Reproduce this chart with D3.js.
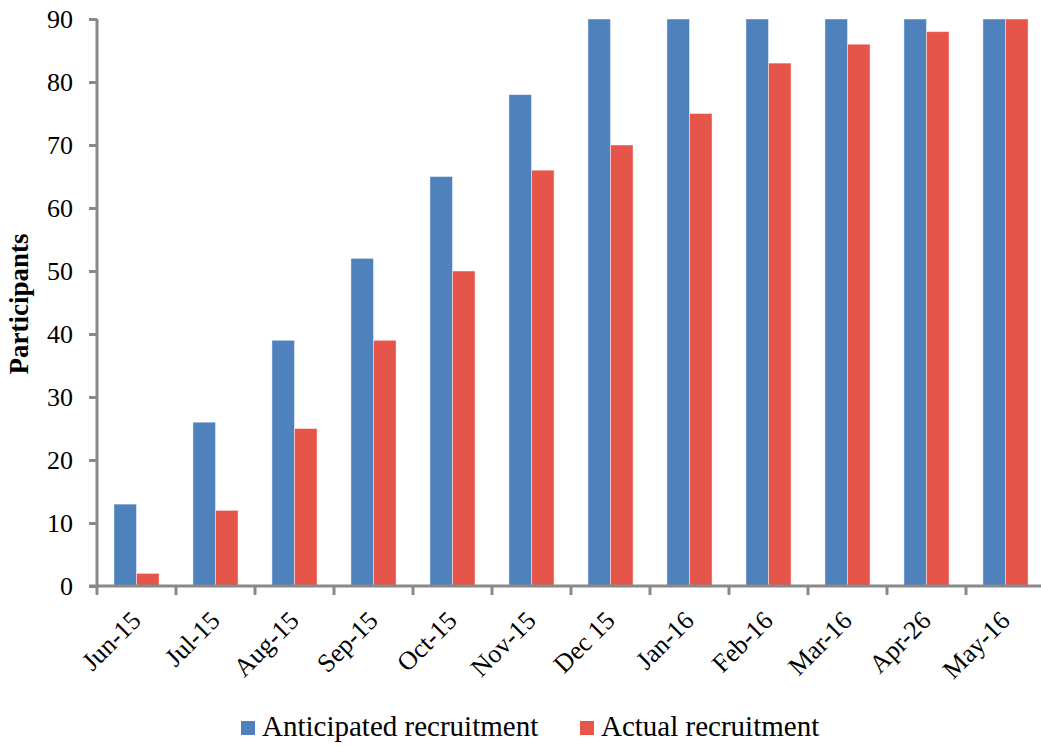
<!DOCTYPE html>
<html>
<head>
<meta charset="utf-8">
<script src="https://cdn.jsdelivr.net/npm/d3@7"></script>
<style>
  html, body { margin: 0; padding: 0; background: #fff; }
  svg { display: block; }
  text { font-family: "Liberation Serif", "Times New Roman", serif; fill: #000; }
</style>
</head>
<body>
<svg id="chart" width="1041" height="746"></svg>
<script>
// Monthly recruitment figures
const months = ["Jun-15", "Jul-15", "Aug-15", "Sep-15", "Oct-15", "Nov-15",
                "Dec 15", "Jan-16", "Feb-16", "Mar-16", "Apr-26", "May-16"];
const anticipated = [13, 26, 39, 52, 65, 78, 90, 90, 90, 90, 90, 90];
const actual      = [2, 12, 25, 39, 50, 66, 70, 75, 83, 86, 88, 90];
const seriesNames = ["Anticipated recruitment", "Actual recruitment"];
const seriesColors = ["#4F81BD", "#E5554A"];
const yTicks = [0, 10, 20, 30, 40, 50, 60, 70, 80, 90];

const svg = d3.select("#chart");
const plotLeft = 97, plotTop = 19, plotBottom = 586, step = 79;

const x = d3.scaleBand()
  .domain(months)
  .range([plotLeft, plotLeft + step * months.length])
  .paddingInner(0).paddingOuter(0);

const xs = d3.scaleBand()
  .domain(seriesNames)
  .range([0, x.bandwidth()])
  .paddingInner(0).paddingOuter(0.75);

const y = d3.scaleLinear().domain([0, 90]).range([plotBottom, plotTop]);

const rows = months.map((m, i) => ({
  month: m,
  values: [
    { key: seriesNames[0], value: anticipated[i] },
    { key: seriesNames[1], value: actual[i] }
  ]
}));

// Bars
const color = d3.scaleOrdinal().domain(seriesNames).range(seriesColors);
svg.append("g")
  .selectAll("g")
  .data(rows)
  .join("g")
  .attr("transform", d => `translate(${x(d.month)},0)`)
  .selectAll("rect")
  .data(d => d.values)
  .join("rect")
  .attr("x", d => xs(d.key))
  .attr("y", d => y(d.value))
  .attr("width", xs.bandwidth())
  .attr("height", d => y(0) - y(d.value))
  .attr("fill", d => color(d.key))
  .attr("stroke", "rgba(255,255,255,0.45)")
  .attr("stroke-width", 1);

const axisColor = "#898989";

// Y axis
const yAxis = svg.append("g")
  .attr("transform", `translate(${plotLeft},0)`)
  .call(d3.axisLeft(y).tickValues(yTicks).tickSize(8).tickPadding(16));
yAxis.select(".domain").attr("stroke", axisColor).attr("stroke-width", 3)
  .attr("d", `M0,${plotTop}V${plotBottom}`);
yAxis.selectAll(".tick line").attr("stroke", axisColor).attr("stroke-width", 3);
yAxis.selectAll(".tick text")
  .style("font-family", '"Liberation Serif", serif')
  .style("font-size", "26px")
  .attr("fill", "#000")
  .attr("dy", "0.34em");

// X axis
const xAxis = svg.append("g")
  .attr("transform", `translate(0,${plotBottom})`)
  .call(d3.axisBottom(x).tickSize(0).tickFormat(""));
xAxis.select(".domain").attr("stroke", axisColor).attr("stroke-width", 3)
  .attr("d", `M${plotLeft - 8},0H1041`);
xAxis.selectAll(".tick").remove();

// Category separator ticks
svg.append("g")
  .selectAll("line")
  .data(months)
  .join("line")
  .attr("x1", d => x(d)).attr("x2", d => x(d))
  .attr("y1", plotBottom).attr("y2", plotBottom + 9)
  .attr("stroke", axisColor).attr("stroke-width", 3);

// Month labels, rotated
svg.append("g")
  .selectAll("text")
  .data(months)
  .join("text")
  .attr("transform", d => `translate(${x(d) + x.bandwidth() / 2 + 6},${plotBottom + 36}) rotate(-45)`)
  .attr("text-anchor", "end")
  .style("font-size", "26px")
  .text(d => d);

// Y axis title
svg.append("text")
  .attr("transform", `translate(28,304) rotate(-90)`)
  .attr("text-anchor", "middle")
  .style("font-size", "27px")
  .style("font-weight", "bold")
  .text("Participants");

// Legend
const legendItems = [
  { name: seriesNames[0], color: seriesColors[0], x: 241 },
  { name: seriesNames[1], color: seriesColors[1], x: 580 }
];
const lg = svg.append("g");
lg.selectAll("rect")
  .data(legendItems)
  .join("rect")
  .attr("x", d => d.x).attr("y", 721)
  .attr("width", 14).attr("height", 14)
  .attr("fill", d => d.color);
lg.selectAll("text")
  .data(legendItems)
  .join("text")
  .attr("x", d => d.x + 21).attr("y", 736)
  .style("font-size", "29px")
  .text(d => d.name);
</script>
</body>
</html>
